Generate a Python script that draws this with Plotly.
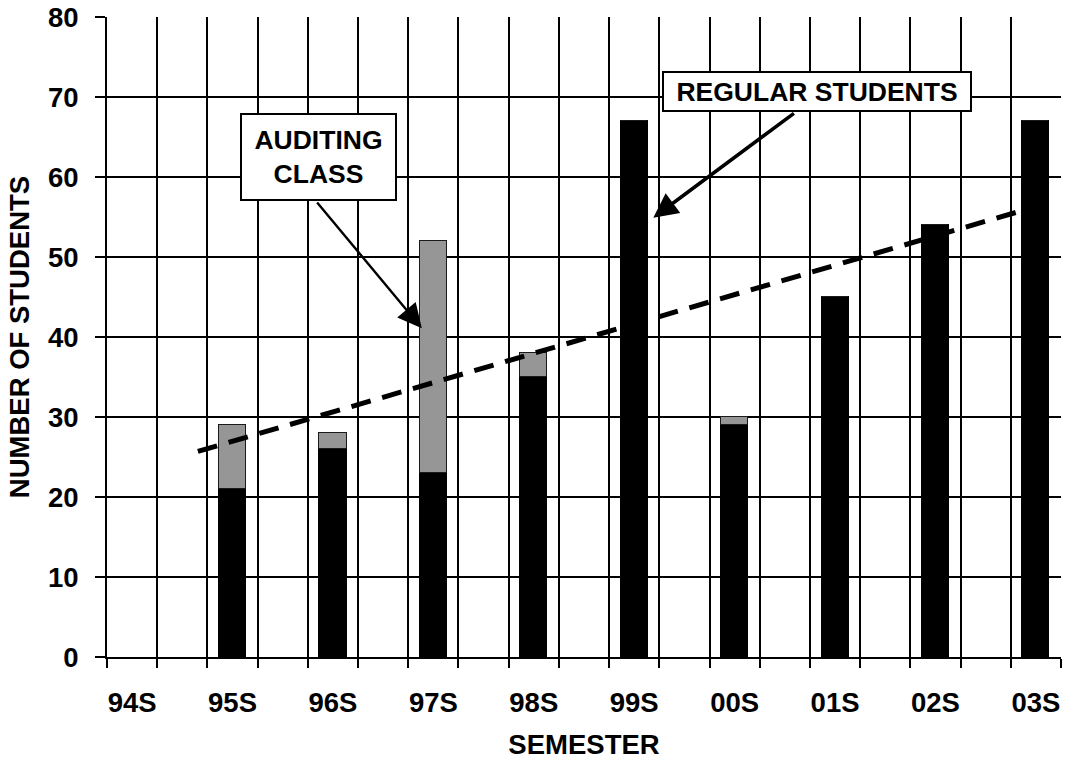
import plotly.graph_objects as go

# Spring semesters shown on the axis
semesters = ["94S", "95S", "96S", "97S", "98S", "99S", "00S", "01S", "02S", "03S"]
regular_students = [None, 21, 26, 23, 35, 67, 29, 45, 54, 67]
auditing_class = [None, 8, 2, 29, 3, 0, 1, 0, 0, 0]

# Straight trend line through the enrolment totals (slot units, students)
trend_x = [1.31, 18.0]
trend_y = [25.7, 56.3]

y_ticks = [0, 10, 20, 30, 40, 50, 60, 70, 80]

# Every spring semester occupies every other slot of a 19-slot axis (spring + fall)
slot_pos = [2 * i for i in range(len(semesters))]
n_slots = 2 * len(semesters) - 1

FONT = "Liberation Sans, Arial, sans-serif"
GRAY = "#969696"

fig = go.Figure()

fig.add_trace(go.Bar(
    x=slot_pos, y=regular_students, name="Regular students",
    width=0.54, marker=dict(color="black", line=dict(color="black", width=1.5)),
))
fig.add_trace(go.Bar(
    x=slot_pos, y=auditing_class, name="Auditing class",
    width=0.54, marker=dict(color=GRAY, line=dict(color="#1a1a1a", width=1.5)),
))
fig.add_trace(go.Scatter(
    x=trend_x, y=trend_y, mode="lines", name="Trend",
    line=dict(color="black", width=5, dash="20px,12px"),
))

axis_font = dict(family=FONT, size=27.5, color="black", weight="bold")

fig.update_layout(
    width=1066, height=761,
    margin=dict(l=107, r=5, t=17, b=104),
    paper_bgcolor="white", plot_bgcolor="white",
    barmode="stack", bargap=0, showlegend=False,
    font=dict(family=FONT, color="black"),
    xaxis=dict(
        range=[-0.5, n_slots - 0.5],
        tickmode="array", tickvals=slot_pos, ticktext=semesters,
        tickfont=axis_font, ticks="", showgrid=False, zeroline=False,
        ticklabelstandoff=20,
        minor=dict(tickmode="linear", tick0=-0.5, dtick=1, showgrid=True,
                   gridcolor="black", gridwidth=2, ticks="outside",
                   ticklen=9, tickwidth=2, tickcolor="black"),
        showline=True, linecolor="black", linewidth=2,
        title=dict(text="SEMESTER", font=axis_font, standoff=18),
        automargin=False,
    ),
    yaxis=dict(
        range=[0, 80], tickmode="array", tickvals=y_ticks,
        tickfont=axis_font, ticks="outside", ticklen=10, tickwidth=2,
        tickcolor="black", ticklabelstandoff=11,
        showgrid=True, gridcolor="black", gridwidth=2, zeroline=False,
        showline=True, linecolor="black", linewidth=2,
        title=dict(text="NUMBER OF STUDENTS", font=axis_font, standoff=10),
        automargin=False,
    ),
)

box_font = dict(family=FONT, size=26.5, color="black", weight="bold")

# Callout boxes
fig.add_annotation(x=3.71, y=62.5, xref="x", yref="y", text="AUDITING<br>CLASS",
                   showarrow=False, font=box_font, bgcolor="white",
                   bordercolor="black", borderwidth=2, borderpad=0,
                   width=153, height=84, align="center")
fig.add_annotation(x=13.65, y=70.65, xref="x", yref="y", text="REGULAR STUDENTS",
                   showarrow=False, font=box_font, bgcolor="white",
                   bordercolor="black", borderwidth=2, borderpad=0,
                   width=306, height=37, align="center")

# Callout arrows
fig.add_annotation(x=5.77, y=41.1, ax=3.66, ay=57.0, xref="x", yref="y",
                   axref="x", ayref="y", text="", showarrow=True,
                   arrowhead=2, arrowsize=2.0, arrowwidth=2.4, arrowcolor="black")
fig.add_annotation(x=10.38, y=54.9, ax=13.21, ay=68.1, xref="x", yref="y",
                   axref="x", ayref="y", text="", showarrow=True,
                   arrowhead=2, arrowsize=1.4, arrowwidth=3.5, arrowcolor="black")

fig.write_html("out.html")
